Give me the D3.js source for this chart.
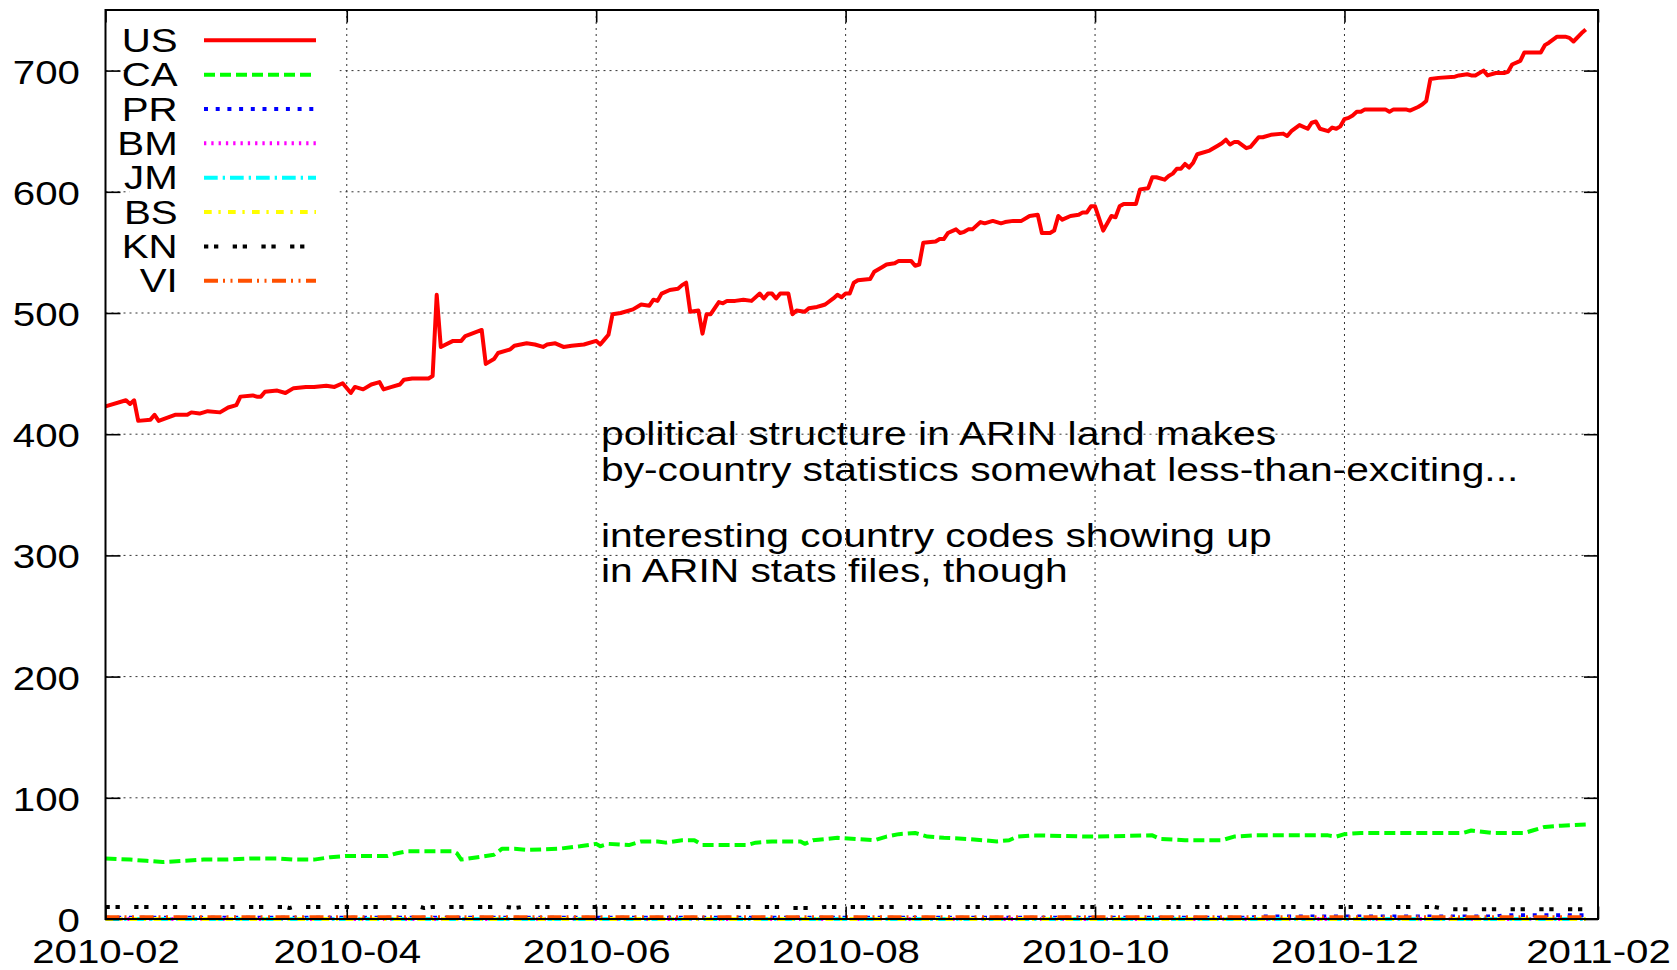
<!DOCTYPE html>
<html>
<head>
<meta charset="utf-8">
<script src="https://cdn.jsdelivr.net/npm/d3@7"></script>
<style>
  body { margin: 0; background: #fff; }
  svg text { font-family: "Liberation Sans", Arial, sans-serif; font-size: 33px; fill: #000; }
</style>
</head>
<body>
<svg id="chart" width="1677" height="970"></svg>
<script>
// days counted from 2010-02-01
const START = new Date(2010, 1, 1);
const END = new Date(2011, 1, 1);

const usData = [[0,423],[5,428],[6,425],[7,428],[8,411],[11,412],[12,416],[13,411],[17,416],[20,416],[21,418],[23,417],[24,418],[25,419],[28,418],[30,422],[32,424],[33,431],[36,432],[37,431],[38,431],[39,435],[42,436],[44,434],[46,438],[49,439],[51,439],[54,440],[56,439],[58,442],[60,434],[61,439],[63,437],[65,441],[67,443],[68,437],[70,439],[72,441],[73,445],[75,446],[79,446],[80,448],[81,515],[82,472],[85,477],[87,477],[88,481],[92,486],[93,458],[95,462],[96,467],[99,470],[100,473],[103,475],[105,474],[107,472],[108,474],[110,475],[112,472],[114,473],[117,474],[120,477],[121,474],[122,478],[123,482],[124,499],[126,500],[129,503],[131,507],[133,506],[134,511],[135,510],[136,516],[138,519],[140,520],[141,523],[142,525],[143,501],[145,502],[146,483],[147,499],[148,499],[150,509],[151,508],[152,510],[154,510],[156,511],[158,510],[160,516],[161,512],[162,516],[163,516],[164,512],[165,516],[167,516],[168,499],[169,502],[171,501],[172,504],[174,505],[175,506],[176,507],[178,512],[179,515],[180,513],[181,516],[182,516],[183,525],[184,527],[187,528],[188,534],[190,538],[191,540],[193,541],[194,543],[197,543],[198,539],[199,540],[200,558],[203,559],[204,561],[205,561],[206,566],[208,569],[209,566],[210,567],[211,569],[212,569],[214,575],[215,574],[217,576],[219,574],[220,575],[222,576],[224,576],[226,580],[228,581],[229,566],[231,566],[232,568],[233,580],[234,577],[236,580],[238,581],[239,583],[240,583],[241,588],[242,588],[244,568],[246,580],[247,579],[248,588],[249,590],[252,590],[253,602],[255,603],[256,612],[257,612],[259,610],[260,613],[261,615],[262,619],[263,619],[264,623],[265,620],[266,624],[267,631],[270,634],[272,638],[273,640],[274,643],[275,639],[276,641],[277,641],[279,636],[280,637],[281,641],[282,645],[283,645],[285,647],[288,648],[289,646],[290,650],[292,655],[294,652],[295,657],[296,658],[297,652],[299,650],[300,653],[301,652],[302,654],[303,660],[304,661],[305,663],[306,666],[307,666],[308,668],[312,668],[313,668],[314,666],[315,668],[317,668],[318,668],[319,667],[321,670],[322,672],[323,675],[324,693],[326,694],[330,695],[331,696],[333,697],[334,696],[335,696],[337,700],[338,696],[340,698],[341,698],[342,698],[343,699],[344,705],[346,708],[347,715],[348,715],[351,715],[352,721],[353,723],[355,728],[357,728],[358,727],[359,724],[361,731],[362,734]];

const caData = [[0,50],[6,49],[10,48],[14,47],[19,48],[24,49],[30,49],[36,50],[42,50],[46,49],[51,49],[55,51],[59,52],[69,52],[71,54],[74,56],[85,56],[86,54],[87,49],[91,51],[95,53],[97,58],[100,58],[103,57],[111,58],[116,60],[120,62],[121,60],[123,62],[128,61],[131,64],[135,64],[137,63],[141,65],[144,65],[146,61],[157,61],[159,63],[163,64],[170,64],[171,62],[173,65],[179,67],[188,65],[191,68],[194,70],[198,71],[201,68],[205,67],[211,66],[218,64],[221,65],[223,68],[227,69],[241,68],[256,69],[258,66],[264,65],[273,65],[276,68],[281,69],[287,69],[299,69],[301,68],[303,70],[307,71],[332,71],[334,73],[339,71],[347,71],[349,73],[352,76],[356,77],[362,78]];

const prData = [[0,1],[280,1],[282,2],[340,2],[342,3],[362,3]];
const bmData = [[0,0],[362,0]];
const jmData = [[0,0],[362,0]];
const bsData = [[0,0],[362,0]];
const knData = [[0,10],[44,10],[45,9],[46,10],[77,10],[78,9],[80,10],[98,10],[100,9],[102,10],[166,10],[168,9],[174,9],[176,10],[325,10],[328,8],[362,8]];
const viData = [[0,1.5],[362,1.5]];

const seriesNames = ["US", "CA", "PR", "BM", "JM", "BS", "KN", "VI"];
const seriesData = [usData, caData, prData, bmData, jmData, bsData, knData, viData];

const yTicks = [0, 100, 200, 300, 400, 500, 600, 700];
const xTickLabels = ["2010-02", "2010-04", "2010-06", "2010-08", "2010-10", "2010-12", "2011-02"];

const noteLines = [
  "political structure in ARIN land makes",
  "by-country statistics somewhat less-than-exciting...",
  "interesting country codes showing up",
  "in ARIN stats files, though"
];

// styles
const colors = ["#ff0000", "#00ff00", "#0000ff", "#ff00ff", "#00ffff", "#ffff00", "#000000", "#ff5000"];
const dashes = [null, "11 5", "4 7.7", "2.3 5", "13.7 5 2.3 5", "7.7 6.7 2.3 7.3", "4.3 5.7 4.3 14.4", "14 5 2 5.5 2 5.5"];
const STRETCH = 1.22;

const margin = {top: 10, right: 79, bottom: 51, left: 105.5}
    , width = 1677 - margin.left - margin.right
    , height = 970 - margin.top - margin.bottom;

const parseMonth = d3.timeParse("%Y-%m");

const x = d3.scaleTime()
    .domain([START, END])
    .range([0, width]);

const y = d3.scaleLinear()
    .domain([0, 750])
    .range([height, 0]);

const svg = d3.select("#chart")
  .append("g")
    .attr("transform", `translate(${margin.left}, ${margin.top})`);

const xTicks = xTickLabels.map(parseMonth);

// grid
svg.append("g").selectAll("line")
    .data(yTicks.slice(1))
  .enter().append("line")
    .attr("x1", 0).attr("x2", width)
    .attr("y1", d => y(d)).attr("y2", d => y(d))
    .attr("stroke", "#333").attr("stroke-width", 1).attr("stroke-dasharray", "2 4");

svg.append("g").selectAll("line")
    .data(xTicks.slice(1, -1))
  .enter().append("line")
    .attr("x1", d => x(d)).attr("x2", d => x(d))
    .attr("y1", 0).attr("y2", height)
    .attr("stroke", "#333").attr("stroke-width", 1).attr("stroke-dasharray", "2 4");

// opaque key box
svg.append("rect")
    .attr("x", 24).attr("y", 10)
    .attr("width", 210).attr("height", 278)
    .attr("fill", "#fff");

// series
const line = d3.line()
    .x(d => x(d3.timeDay.offset(START, d[0])))
    .y(d => y(d[1]));

seriesData.forEach((data, i) => {
  svg.append("path")
      .datum(data)
      .attr("d", line)
      .attr("fill", "none")
      .attr("stroke", colors[i])
      .attr("stroke-width", 4)
      .attr("stroke-linejoin", "round")
      .attr("stroke-dasharray", dashes[i]);
});

// axes
const yAxis = svg.append("g")
    .call(d3.axisLeft(y).tickValues(yTicks).tickSize(-15).tickSizeOuter(0).tickPadding(25.5));
yAxis.selectAll("text").attr("dy", "0.38em");

svg.append("g")
    .attr("transform", `translate(${width}, 0)`)
    .call(d3.axisRight(y).tickValues(yTicks).tickSize(-14).tickSizeOuter(0).tickFormat(""));

svg.append("g")
    .attr("transform", `translate(0, ${height})`)
    .call(d3.axisBottom(x).tickValues(xTicks).tickSize(-12.5).tickSizeOuter(0).tickPadding(20.8)
      .tickFormat(d3.timeFormat("%Y-%m")));

svg.append("g")
    .call(d3.axisTop(x).tickValues(xTicks).tickSize(-12.5).tickSizeOuter(0).tickFormat(""));

svg.selectAll(".domain").remove();
svg.selectAll(".tick line").attr("stroke", "#000").attr("stroke-width", 1.6);
svg.selectAll(".tick text")
    .attr("font-size", null).attr("font-family", null)
    .style("font-size", "33px").style("font-family", '"Liberation Sans", Arial, sans-serif');

svg.append("rect")
    .attr("width", width).attr("height", height)
    .attr("fill", "none").attr("stroke", "#000").attr("stroke-width", 2);

// key
const legend = svg.selectAll(".legend")
    .data(seriesNames)
  .enter().append("g")
    .attr("class", "legend")
    .attr("transform", (d, i) => `translate(0, ${30.3 + i * 34.35})`);

legend.append("text")
    .attr("x", 72.2)
    .attr("y", 11.5)
    .style("text-anchor", "end")
    .text(d => d);

legend.append("line")
    .attr("x1", 98.5).attr("x2", 210.5)
    .attr("stroke", (d, i) => colors[i])
    .attr("stroke-width", 4)
    .attr("stroke-dasharray", (d, i) => dashes[i]);

// note
const noteY = [435, 471, 537, 572];
svg.selectAll(".note")
    .data(noteLines)
  .enter().append("text")
    .attr("class", "note")
    .attr("x", 495.5)
    .attr("y", (d, i) => noteY[i])
    .text(d => d);

// the original text is wider than Arial, stretch glyphs horizontally
d3.selectAll("svg text").each(function () {
  const w = this.getComputedTextLength();
  const s = this.classList.contains("note") ? 1.235 : STRETCH;
  if (w > 0) d3.select(this).attr("textLength", w * s).attr("lengthAdjust", "spacingAndGlyphs");
});
</script>
</body>
</html>
